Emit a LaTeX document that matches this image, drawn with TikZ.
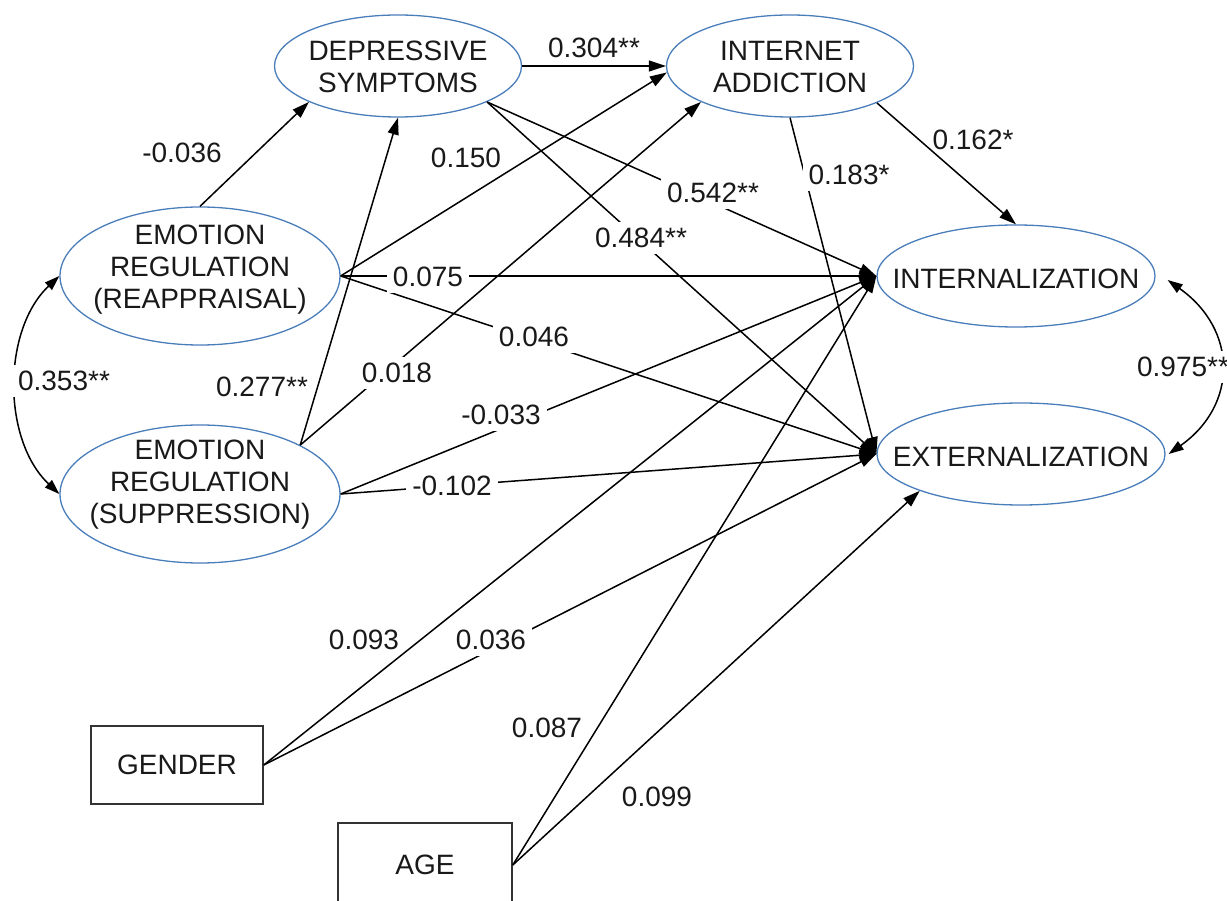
\documentclass[tikz,border=0pt]{standalone}
\usepackage{fontspec}
\setmainfont{Liberation Sans}
\usetikzlibrary{arrows.meta,shapes.geometric,calc}
\definecolor{eblue}{RGB}{74,126,187}
\definecolor{txt}{RGB}{25,25,25}
\begin{document}
\begin{tikzpicture}[x=1pt,y=-1pt,
  font=\fontsize{28}{32}\selectfont,
  lat/.style={ellipse,draw=eblue,line width=1.3pt,inner sep=0pt},
  intext/.style={text=txt,align=center,inner sep=0pt},
  obs/.style={rectangle,draw=black!80,line width=1.6pt,inner sep=0pt,text=txt},
  arr/.style={line width=1.5pt,-{Triangle[length=17pt,width=11pt]}},
  cov/.style={line width=1.5pt,{Triangle[length=15pt,width=10pt]}-{Triangle[length=15pt,width=10pt]}},
  lab/.style={text=txt,inner sep=0pt},
  wlab/.style={text=txt,fill=white,inner sep=6pt}
]
\useasboundingbox (0,0) rectangle (1227,901);
% nodes
\node[lat,minimum width=247pt,minimum height=102pt,
  label={[intext,yshift=-1pt]center:DEPRESSIVE\\SYMPTOMS}] (dep) at (398,66) {};
\node[lat,minimum width=247pt,minimum height=102pt,
  label={[intext,yshift=-1pt]center:INTERNET\\ADDICTION}] (int) at (790,66) {};
\node[lat,minimum width=280pt,minimum height=138pt,
  label={[intext,yshift=6pt]center:EMOTION\\REGULATION\\(REAPPRAISAL)}] (rea) at (200,276) {};
\node[lat,minimum width=280pt,minimum height=138pt,
  label={[intext,yshift=9pt]center:EMOTION\\REGULATION\\(SUPPRESSION)}] (sup) at (200,494) {};
\node[lat,minimum width=278pt,minimum height=102pt,
  label={[intext,yshift=-3pt]center:INTERNALIZATION}] (intz) at (1016,276) {};
\node[lat,minimum width=288pt,minimum height=102pt,
  label={[intext,yshift=-3pt]center:EXTERNALIZATION}] (ext) at (1021,454) {};
\node[obs,minimum width=172pt,minimum height=78pt] (gen) at (177,765) {GENDER};
\node[obs,minimum width=174pt,minimum height=84pt] (age) at (425,865) {AGE};
% paths
\draw[arr] (rea.north) -- (dep.202);
\draw[arr] (sup.26) -- (dep.south);
\draw[arr] (dep.east) -- (int.west);
\draw[arr] (rea.east) -- (int.183);
\draw[arr] (sup.26) -- (int.202);
\draw[arr] (dep.-22) -- (intz.west);
\draw[arr] (dep.-22) -- (ext.west);
\draw[arr] (int.-23) -- (intz.north);
\draw[arr] (int.south) -- (ext.west);
\draw[arr] (rea.east) -- (intz.west);
\draw[arr] (rea.east) -- (ext.west);
\draw[arr] (sup.east) -- (intz.west);
\draw[arr] (sup.east) -- (ext.west);
\draw[arr] (gen.east) -- (intz.west);
\draw[arr] (gen.east) -- (ext.west);
\draw[arr] (age.east) -- (intz.west);
\draw[arr] (age.east) -- (ext.200);
\draw[cov] (rea.west) .. controls (2,330) and (2,440) .. (sup.west);
\draw[cov] ($(intz.east)+(12,4)$) .. controls (1238,330) and (1238,405) .. ($(ext.east)+(3,0)$);
% labels
\node[lab] (l1) at (182,153) {-0.036};
\node[lab] (l2) at (262,387) {0.277**};
\node[lab] (l3) at (594,48) {0.304**};
\node[lab] (l4) at (466,158) {0.150};
\node[wlab] (l5) at (397,373) {0.018};
\node[wlab] (l6) at (713,193) {0.542**};
\node[wlab] (l7) at (641,238) {0.484**};
\node[lab] (l8) at (973,140) {0.162*};
\node[wlab] (l9) at (849,175) {0.183*};
\node[wlab] (l10) at (428,277) {0.075};
\node[wlab] (l11) at (534,337) {0.046};
\node[wlab] (l12) at (501,415) {-0.033};
\node[wlab] (l13) at (452,486) {-0.102};
\node[lab] (l14) at (364,640) {0.093};
\node[wlab] (l15) at (491,640) {0.036};
\node[lab] (l16) at (547,728) {0.087};
\node[lab] (l17) at (657,797) {0.099};
\node[wlab] (l18) at (64,381) {0.353**};
\node[wlab] (l19) at (1183,367) {0.975**};
\end{tikzpicture}
\end{document}
